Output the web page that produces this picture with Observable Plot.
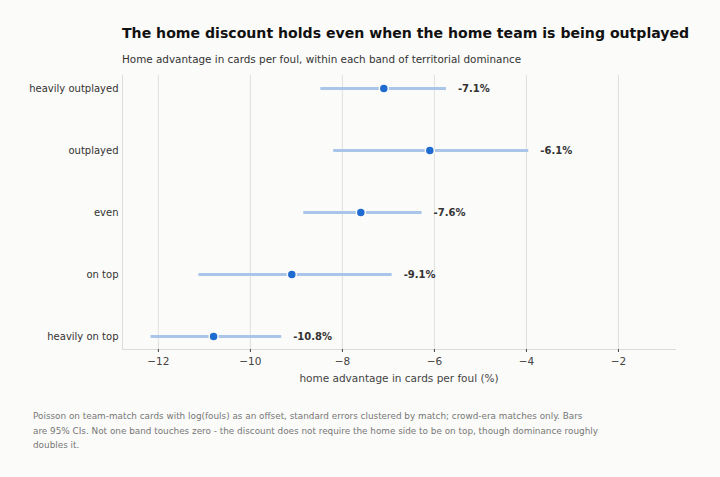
<!DOCTYPE html>
<html>
<head>
<meta charset="utf-8">
<script src="https://cdn.jsdelivr.net/npm/d3@7"></script>
<script src="https://cdn.jsdelivr.net/npm/@observablehq/plot@0.6"></script>
<style>
  html, body { margin: 0; padding: 0; background: #fbfbf9; }
  body { width: 720px; height: 477px; position: relative; overflow: hidden; font-family: "DejaVu Sans", sans-serif; }
  #title { position: absolute; left: 122px; top: 25px; font-size: 14.1px; font-weight: bold; color: #111; white-space: nowrap; }
  #subtitle { position: absolute; left: 122px; top: 53px; font-size: 10.4px; color: #333; white-space: nowrap; }
  #chart { position: absolute; left: 0; top: 0; }
  #caption { position: absolute; left: 33px; top: 409px; font-size: 8.85px; line-height: 14.5px; color: #777; white-space: nowrap; }
</style>
</head>
<body>
<div id="chart"></div>
<div id="title">The home discount holds even when the home team is being outplayed</div>
<div id="subtitle">Home advantage in cards per foul, within each band of territorial dominance</div>
<div id="caption">Poisson on team-match cards with log(fouls) as an offset, standard errors clustered by match; crowd-era matches only. Bars<br>are 95% CIs. Not one band touches zero - the discount does not require the home side to be on top, though dominance roughly<br>doubles it.</div>
<script>
const bands = ["heavily outplayed", "outplayed", "even", "on top", "heavily on top"];
const estimates = [-7.1, -6.1, -7.6, -9.1, -10.8];
const ciLow = [-8.48, -8.2, -8.85, -11.13, -12.17];
const ciHigh = [-5.75, -3.96, -6.28, -6.93, -9.33];
const xTicks = [-12, -10, -8, -6, -4, -2];

const rows = bands.map((b, i) => ({band: b, est: estimates[i], lo: ciLow[i], hi: ciHigh[i]}));

const chart = Plot.plot({
  width: 720,
  height: 400,
  marginLeft: 122,
  marginRight: 45,
  marginTop: 75,
  marginBottom: 51,
  style: {background: "transparent", fontFamily: "DejaVu Sans, sans-serif", fontSize: "10.5px", color: "#333"},
  x: {domain: [-12.78, -0.76], label: "home advantage in cards per foul (%)"},
  y: {type: "point", domain: bands, padding: 0.18, label: null},
  marks: [
    Plot.gridX(xTicks, {stroke: "#d8d8d8", strokeOpacity: 1, strokeWidth: 0.8}),
    Plot.frame({anchor: "left", stroke: "#dcdcdc", strokeOpacity: 1}),
    Plot.frame({anchor: "bottom", stroke: "#dcdcdc", strokeOpacity: 1}),
    Plot.axisX({ticks: xTicks, tickSize: 3, tickPadding: 5, stroke: "#444", fill: "#444", fontSize: 10.5, label: "home advantage in cards per foul (%)", labelAnchor: "center", labelArrow: "none", labelOffset: 32}),
    Plot.axisY({tickSize: 0, tickPadding: 4, fill: "#333", fontSize: 10, label: null}),
    Plot.link(rows, {x1: "lo", x2: "hi", y1: "band", y2: "band", stroke: "#a9c5e9", strokeWidth: 3}),
    Plot.dot(rows, {x: "est", y: "band", r: 4.5, fill: "#1f6bcf", stroke: "#fbfbf9", strokeWidth: 1.5}),
    Plot.text(rows, {x: "hi", y: "band", text: d => d.est.toFixed(1) + "%", dx: 12, textAnchor: "start", fontWeight: "bold", fontSize: 10, fill: "#333"})
  ]
});
document.getElementById("chart").appendChild(chart);
</script>
</body>
</html>
